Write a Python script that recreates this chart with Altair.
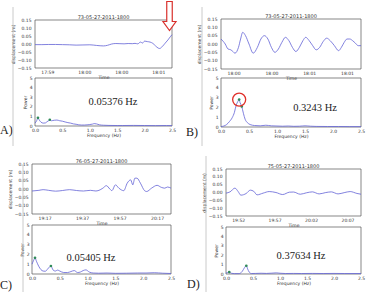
import altair as alt
import pandas as pd

W, H = 368, 292

# ---- displacement records (time in s from record start, displacement in m)
A_T = [0, 5, 10, 15, 20, 25, 30, 35, 40, 45, 50, 53, 56, 59, 62, 65, 68, 71, 73, 75,
       77, 78.5, 80, 82, 84, 86, 88, 90, 91, 93, 95, 97, 99, 100]
A_D = [-0.004, -0.004, -0.003, -0.003, -0.004, -0.005, -0.007, -0.006, -0.005, -0.009,
       -0.012, -0.008, 0.000, 0.003, 0.002, 0.001, 0.003, 0.002, 0.004, 0.001,
       0.012, 0.006, 0.018, 0.015, 0.012, 0.004, -0.012, -0.026, -0.028, -0.015,
       0.005, 0.025, 0.048, 0.058]

B_T = [0, 3, 5, 7, 8.5, 10, 12.5, 14, 15.5, 17.5, 20, 23, 26, 28.5, 31, 33.5, 36, 38.5, 41, 43.5,
       46, 48.5, 51, 53.5, 56, 58.5, 60.5, 63, 65.5, 68, 70.5, 73, 75.5, 78, 81, 84, 86, 88, 90, 92,
       94, 96, 98, 100]
B_D = [0.03, 0.00, -0.03, -0.035, -0.045, -0.055, -0.02, 0.03, 0.07, 0.05,
       0.00, -0.055, -0.02, 0.03, 0.05, 0.03, -0.02, -0.05, -0.03, 0.01,
       0.04, 0.02, -0.02, -0.045, -0.02, 0.02, 0.04, 0.02, -0.01, -0.035,
       -0.02, 0.015, 0.035, 0.02, -0.01, -0.04, -0.02, 0.01, 0.03, 0.03,
       0.02, 0.005, -0.01, -0.01]

C_T = [0, 5, 8, 12, 17, 22, 27, 32, 37, 42, 46, 49, 51, 53.5, 56, 57.5, 60, 62.5, 66, 68.5,
       71, 72.5, 74, 75.5, 78, 81, 82.5, 86, 90, 93, 95.5, 97.5, 100]
C_D = [-0.012, -0.008, -0.004, -0.008, -0.013, -0.009, -0.004, -0.009, -0.012, -0.008,
       -0.012, -0.005, 0.005, 0.02, 0.00, -0.01, 0.025, 0.005, -0.01, 0.035,
       0.055, 0.025, 0.065, 0.065, 0.035, -0.01, -0.015, 0.005, 0.022, 0.01,
       0.005, 0.012, 0.005]

D_T = [0, 3, 6.6, 9, 11, 15, 18, 20.5, 23, 27.5, 32, 37, 42, 47, 50, 55, 59.5, 64, 69, 73.5,
       78, 83, 87.5, 92, 97, 100]
D_D = [-0.004, 0.004, 0.028, 0.006, -0.017, -0.006, 0.015, 0.008, -0.015, -0.004,
       0.006, 0.000, -0.013, 0.002, 0.003, -0.011, -0.002, 0.004, -0.009, -0.001,
       0.004, -0.009, -0.001, 0.006, -0.006, -0.011]

# ---- power spectra (frequency in Hz, power)
PEAK_A, PEAK_B, PEAK_C, PEAK_D = 0.05376, 0.3243, 0.05405, 0.37634

A_F = [0.0, 0.03, PEAK_A, 0.08, 0.11, 0.15, 0.19, 0.22, 0.25, 0.27,
       0.30, 0.35, 0.40, 0.45, 0.50, 0.55, 0.60, 0.65, 0.70, 0.75,
       0.80, 0.85, 0.90, 0.95, 1.00, 1.05, 1.08, 1.12, 1.18, 1.25,
       1.35, 1.50, 1.60, 1.80, 2.00, 2.20, 2.40, 2.50]
A_P = [0.30, 0.55, 0.85, 0.60, 0.40, 0.30, 0.32, 0.45, 0.55, 0.65,
       0.55, 0.60, 0.62, 0.55, 0.50, 0.42, 0.35, 0.30, 0.22, 0.18,
       0.12, 0.10, 0.10, 0.12, 0.15, 0.20, 0.25, 0.22, 0.12, 0.08,
       0.06, 0.05, 0.05, 0.06, 0.05, 0.04, 0.05, 0.04]
A_DOT_F = [PEAK_A, 0.27]
A_DOT_P = [0.85, 0.65]

B_F = [0.0, 0.05, 0.10, 0.15, 0.20, 0.24, 0.27, 0.30, PEAK_B, 0.34,
       0.37, 0.40, 0.43, 0.47, 0.52, 0.60, 0.70, 0.80, 0.90, 1.00,
       1.10, 1.20, 1.30, 1.40, 1.50, 1.60, 1.70, 1.90, 2.10, 2.30, 2.50]
B_P = [0.05, 0.10, 0.25, 0.55, 0.95, 1.5, 2.2, 2.6, 2.8, 2.5,
       2.1, 1.4, 0.8, 0.45, 0.25, 0.15, 0.12, 0.18, 0.12, 0.10,
       0.08, 0.10, 0.07, 0.08, 0.12, 0.08, 0.06, 0.05, 0.05, 0.04, 0.04]
B_DOT_F = [PEAK_B, 0.37]
B_DOT_P = [2.8, 2.1]

C_F = [0.0, 0.03, PEAK_C, 0.08, 0.12, 0.16, 0.20, 0.24, 0.28, 0.32,
       0.34, 0.38, 0.42, 0.46, 0.50, 0.57, 0.64, 0.70, 0.76, 0.82,
       0.87, 0.92, 0.97, 1.03, 1.10, 1.20, 1.35, 1.50, 1.70, 1.90,
       2.05, 2.20, 2.35, 2.50]
C_P = [1.0, 1.4, 1.65, 1.3, 0.8, 0.45, 0.3, 0.28, 0.5, 0.75,
       0.82, 0.4, 0.3, 0.4, 0.3, 0.15, 0.15, 0.25, 0.35, 0.15,
       0.2, 0.35, 0.42, 0.2, 0.1, 0.08, 0.1, 0.07, 0.08, 0.1,
       0.1, 0.13, 0.08, 0.05]
C_DOT_F = [PEAK_C, 0.34]
C_DOT_P = [1.65, 0.82]

D_F = [0.0, 0.03, 0.06, 0.10, 0.16, 0.24, 0.30, 0.34, PEAK_D, 0.40,
       0.43, 0.47, 0.55, 0.65, 0.75, 0.85, 0.93, 1.00, 1.10, 1.25,
       1.40, 1.60, 1.80, 2.00, 2.20, 2.50]
D_P = [0.10, 0.15, 0.20, 0.08, 0.04, 0.04, 0.27, 0.65, 0.88, 0.55,
       0.2, 0.05, 0.06, 0.08, 0.06, 0.09, 0.12, 0.08, 0.05, 0.06,
       0.05, 0.06, 0.05, 0.06, 0.05, 0.05]
D_DOT_F = [0.06, PEAK_D]
D_DOT_P = [0.20, 0.88]

# ---- titles and tick labels
TITLES = ["73-05-27-2011-1800", "73-05-27-2011-1800", "76-05-27-2011-1800", "75-05-27-2011-1800"]
TIME_TICKS = [9, 36, 63, 90]
TIME_LABELS = [
    ["17:59", "18:00", "18:00", "18:01"],
    ["18:00", "18:00", "18:01", "18:01"],
    ["19:17", "19:37", "19:57", "20:17"],
    ["19:52", "19:57", "20:02", "20:07"],
]
DISP_TICKS = [-0.15, -0.10, -0.05, 0.00, 0.05, 0.10, 0.15]
FREQ_TICKS = [0.0, 0.5, 1.0, 1.5, 2.0, 2.5]
POWER_TICKS = [0, 1, 2, 3, 4, 5]
PANEL_TAGS = ["A)", "B)", "C)", "D)"]

LINE = "#6262d6"
FRAME = "#555555"
DOT = "#2f8a58"
SANS = "DejaVu Sans"
SERIF = "Liberation Serif"
FS = 4.5


def axis_common(**kw):
    base = dict(grid=False, domain=False, ticks=False, labelFont=SANS, titleFont=SANS,
                labelFontSize=FS, titleFontSize=FS, labelColor="#333", titleColor="#333",
                titleFontWeight="normal", labelOverlap=False, labelFlush=False, labelBound=False)
    base.update(kw)
    return alt.Axis(**base)


def plot_box(df, xf, yf, x_dom, y_dom, box, x_axis, y_axis, interp="monotone", extras=()):
    left, right, top, bottom = box
    xs = alt.Scale(domain=x_dom, range=[left, right], nice=False, zero=False)
    ys = alt.Scale(domain=y_dom, range=[bottom, top], nice=False, zero=False)

    frame_df = pd.DataFrame({"x0": [x_dom[0]], "x1": [x_dom[1]], "y0": [y_dom[0]], "y1": [y_dom[1]]})
    frame = alt.Chart(frame_df).mark_rect(fill="transparent", stroke=FRAME, strokeWidth=0.7).encode(
        x=alt.X("x0:Q", scale=xs, axis=x_axis),
        x2="x1:Q",
        y=alt.Y("y0:Q", scale=ys, axis=y_axis),
        y2="y1:Q",
    )
    line = alt.Chart(df).mark_line(color=LINE, strokeWidth=0.8, interpolate=interp).encode(
        x=alt.X(f"{xf}:Q", scale=xs, axis=x_axis),
        y=alt.Y(f"{yf}:Q", scale=ys, axis=y_axis),
    )
    parts = [frame, line]
    for ex_df, mark in extras:
        parts.append(alt.Chart(ex_df).mark_point(**mark).encode(
            x=alt.X(f"{xf}:Q", scale=xs, axis=x_axis),
            y=alt.Y(f"{yf}:Q", scale=ys, axis=y_axis),
        ))
    return alt.layer(*parts)


def time_axis(bottom, labels):
    expr = "[" + ",".join(f"'{s}'" for s in labels) + "][indexof([" + \
        ",".join(str(v) for v in TIME_TICKS) + "], datum.value)]"
    return axis_common(orient="bottom", offset=bottom - H, title="Time", values=TIME_TICKS,
                       labelExpr=expr, labelPadding=1.5, titlePadding=0.5)


def disp_axis(left):
    return axis_common(orient="left", offset=-left, title="displacement (m)", values=DISP_TICKS,
                       format=".2f", labelPadding=4, titlePadding=1.5)


def freq_axis(bottom):
    return axis_common(orient="bottom", offset=bottom - H, title="Frequency (Hz)", values=FREQ_TICKS,
                       format=".1f", labelPadding=1.5, titlePadding=0.5)


def power_axis(left):
    return axis_common(orient="left", offset=-left, title="Power", values=POWER_TICKS,
                       format="d", labelPadding=3, titlePadding=1.5)


def text_at(s, x, y, size, font, align="center", color="#222"):
    return alt.Chart(pd.DataFrame({"s": [s]})).mark_text(
        align=align, baseline="alphabetic", font=font, fontSize=size, color=color
    ).encode(x=alt.value(x), y=alt.value(y), text="s:N")


def vrule(x, y0, y1):
    return alt.Chart(pd.DataFrame({"k": [0]})).mark_rule(color="#bdbdbd", strokeWidth=0.8).encode(
        x=alt.value(x), y=alt.value(y0), y2=alt.value(y1))


DOT_MARK = dict(filled=True, size=7, color=DOT, opacity=1)

panels = [
    dict(t=A_T, d=A_D, f=A_F, p=A_P, df_=A_DOT_F, dp=A_DOT_P, peak=PEAK_A,
         top=(35, 172, 20, 68), bot=(35, 172, 78, 126), ann=(113, 105),
         tag=(0, 134), rule=(13, 7, 146)),
    dict(t=B_T, d=B_D, f=B_F, p=B_P, df_=B_DOT_F, dp=B_DOT_P, peak=PEAK_B,
         top=(221, 361, 19, 69), bot=(221, 361, 78, 127), ann=(315, 111),
         tag=(186, 136), rule=(202, 7, 146)),
    dict(t=C_T, d=C_D, f=C_F, p=C_P, df_=C_DOT_F, dp=C_DOT_P, peak=PEAK_C,
         top=(32, 171, 164, 214), bot=(32, 171, 225, 274), ann=(91, 261),
         tag=(0, 289), rule=(23, 164, 292)),
    dict(t=D_T, d=D_D, f=D_F, p=D_P, df_=D_DOT_F, dp=D_DOT_P, peak=PEAK_D,
         top=(226, 361, 169, 216), bot=(226, 361, 227, 274), ann=(301, 259),
         tag=(187, 288), rule=(206, 156, 292)),
]

layers = []
for i, pn in enumerate(panels):
    ts = pd.DataFrame({"t": pn["t"], "disp": pn["d"]})
    layers.append(plot_box(ts, "t", "disp", [0, 100], [-0.15, 0.15], pn["top"],
                           time_axis(pn["top"][3], TIME_LABELS[i]), disp_axis(pn["top"][0])))

    spec = pd.DataFrame({"freq": pn["f"], "power": pn["p"]})
    extras = [(pd.DataFrame({"freq": pn["df_"], "power": pn["dp"]}), DOT_MARK)]
    if i == 1:
        # red ring around the dominant peak
        extras.append((pd.DataFrame({"freq": [PEAK_B], "power": [2.8]}),
                       dict(shape="circle", filled=False, size=170, color="#e0302a",
                            strokeWidth=1.3, opacity=1)))
    layers.append(plot_box(spec, "freq", "power", [0, 2.5], [0, 5], pn["bot"],
                           freq_axis(pn["bot"][3]), power_axis(pn["bot"][0]), extras=extras))

    left, right, top, _ = pn["top"]
    layers.append(text_at(TITLES[i], (left + right) / 2, top - 1.5, 5, SANS, color="#333"))
    layers.append(text_at(f"{pn['peak']} Hz", pn["ann"][0], pn["ann"][1], 10.5, SERIF))
    layers.append(text_at(PANEL_TAGS[i], pn["tag"][0], pn["tag"][1], 12, SERIF, align="left"))
    rx, ry0, ry1 = pn["rule"]
    layers.append(vrule(rx, ry0, ry1))

# red down arrow marking the end of record A
ARROW = "M -0.19 -1 L 0.19 -1 L 0.19 0.38 L 0.45 0.38 L 0 1 L -0.45 0.38 L -0.19 0.38 Z"
layers.append(alt.Chart(pd.DataFrame({"k": [0]})).mark_point(
    shape=ARROW, size=841, filled=True, fill="white", stroke="#d9302c", strokeWidth=1.2, opacity=1
).encode(x=alt.value(169.5), y=alt.value(16)))

chart = alt.layer(*layers).resolve_scale(x="independent", y="independent").properties(
    width=W, height=H, autosize=alt.AutoSizeParams(type="none"), padding=0, background="white"
).configure_view(strokeWidth=0)

chart.save("out.html", embed_options={"renderer": "svg", "actions": False})
